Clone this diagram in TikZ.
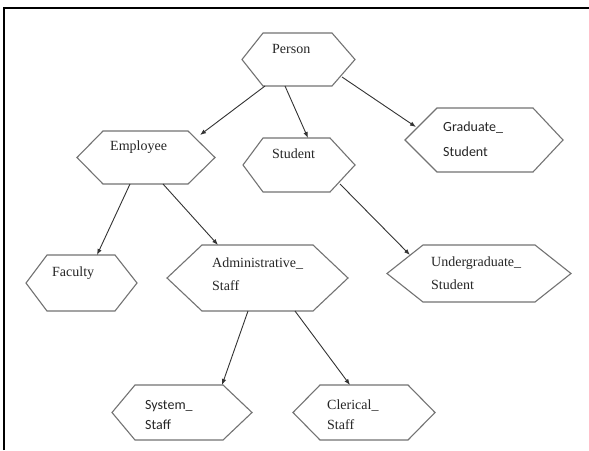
\documentclass[tikz,border=0pt]{standalone}
\usepackage{fontspec}
\setmainfont{Liberation Serif}
\newfontfamily\calib{Carlito}
\usetikzlibrary{arrows.meta,calc}
\tikzset{
  hexbox/.style={shape=rectangle, draw=none, inner sep=0pt, outer sep=0pt},
  hexline/.style={draw=black!55, line width=1.1pt, line join=miter},
  lbl/.style={inner sep=0pt, align=left, text=black!85, font=\fontsize{14}{23}\selectfont},
  conn/.style={draw=black!80, line width=0.9pt, -{Latex[length=6pt,width=4.5pt]}},
  frameline/.style={draw=black, line width=2pt}
}
\newcommand{\mkhex}[7]{%
  \node[hexbox, minimum width=#4pt, minimum height=#5pt] (#1) at (#2,#3) {};
  \draw[hexline] (#1.west) -- ($(#1.north west)+(#6,0)$) -- ($(#1.north east)+(-#7,0)$) -- (#1.east) -- ($(#1.south east)+(-#7,0)$) -- ($(#1.south west)+(#6,0)$) -- cycle;}
\begin{document}
\begin{tikzpicture}[x=1pt,y=-1pt]
\useasboundingbox (0,0) rectangle (589,450);
\fill[white] (0,0) rectangle (589,450);
\draw[frameline] (4,450) -- (4,8) -- (589,8);

\mkhex{person}{298.5}{59.5}{113}{53}{21}{23}
\mkhex{employee}{146}{157.5}{138}{53}{26}{27}
\mkhex{student}{299}{165}{112}{54}{20}{25}
\mkhex{graduate}{484}{140}{158}{64}{32}{30}
\mkhex{faculty}{81.5}{283}{111}{56}{21}{22}
\mkhex{admin}{257.5}{278}{181}{66}{35}{35}
\mkhex{undergrad}{479}{273.5}{184}{57}{36}{36}
\mkhex{system}{182}{412.5}{140}{55}{23}{29}
\mkhex{clerical}{364}{412.5}{142}{55}{27}{27}

\node[lbl, anchor=west] (person-t) at (272,49) {Person};
\node[lbl, anchor=west] (employee-t) at (110,147) {Employee};
\node[lbl, anchor=west] (student-t) at (272,154) {Student};
\node[lbl, anchor=west, font=\calib\fontsize{14}{25}\selectfont] (graduate-t) at (443,139.5) {Graduate\_\\Student};
\node[lbl, anchor=west] (faculty-t) at (52,273) {Faculty};
\node[lbl, anchor=west] (admin-t) at (212,274.5) {Administrative\_\\Staff};
\node[lbl, anchor=west] (undergrad-t) at (431,273.5) {Undergraduate\_\\Student};
\node[lbl, anchor=west, font=\calib\fontsize{14}{20}\selectfont] (system-t) at (145,415) {System\_\\Staff};
\node[lbl, anchor=west, font=\fontsize{14}{20}\selectfont] (clerical-t) at (327,415) {Clerical\_\\Staff};

\draw[conn] ($(person.south west)+(23,0)$) -- ($(employee.north east)+(-15,4)$);
\draw[conn] ($(person.south west)+(43,0)$) -- ($(student.north west)+(65,0)$);
\draw[conn] ($(person.south east)+(-13,-9)$) -- ($(graduate.north west)+(11,19)$);
\draw[conn] ($(employee.south west)+(53,0)$) -- ($(faculty.north west)+(71,0)$);
\draw[conn] ($(employee.south west)+(86,0)$) -- ($(admin.north west)+(51,0)$);
\draw[conn] ($(student.south east)+(-15,-8)$) -- ($(undergrad.north west)+(23,10)$);
\draw[conn] ($(admin.south west)+(81,0)$) -- ($(system.north west)+(110,0)$);
\draw[conn] ($(admin.south west)+(128,0)$) -- ($(clerical.north west)+(57,0)$);
\end{tikzpicture}
\end{document}
